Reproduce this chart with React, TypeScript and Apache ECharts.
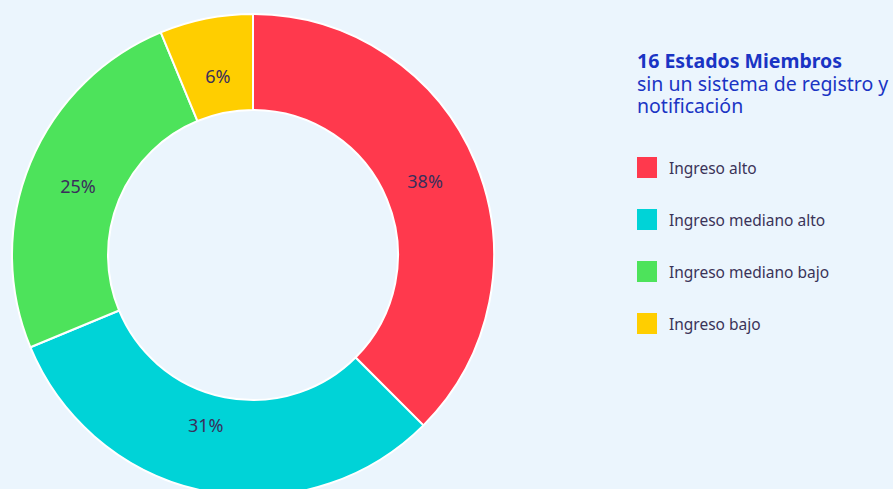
import React, { useEffect, useRef } from "react";
import * as echarts from "echarts";

const categories = ["Ingreso alto", "Ingreso mediano alto", "Ingreso mediano bajo", "Ingreso bajo"];
const counts = [6, 5, 4, 1];
const colors = ["#FF394D", "#00D3D7", "#4DE35B", "#FFCE00"];
const titleText = "16 Estados Miembros";
const subText = "sin un sistema de registro y\nnotificación";
const labelOffsets = [[-9, 1], [-9, -22], [6, 6], [3, 13]];

export default function App() {
  const ref = useRef<HTMLDivElement>(null);
  useEffect(() => {
    document.body.style.margin = "0";
    const chart = echarts.init(ref.current!, null, { renderer: "svg" });
    chart.setOption({
      animation: false,
      backgroundColor: "#EBF5FD",
      textStyle: { fontFamily: "Noto Sans" },
      title: {
        text: titleText,
        subtext: subText,
        left: 637,
        top: 49,
        padding: 0,
        itemGap: 0,
        textStyle: { fontFamily: "Noto Sans", fontSize: 19.5, fontWeight: "bold", color: "#1A34C4", lineHeight: 23 },
        subtextStyle: { fontFamily: "Noto Sans", fontSize: 19.5, color: "#1A34C4", lineHeight: 22.5 },
      },
      legend: {
        orient: "vertical",
        left: 637,
        top: 157,
        padding: 0,
        itemWidth: 20,
        itemHeight: 21,
        itemGap: 31,
        icon: "rect",
        itemStyle: { borderWidth: 0 },
        textStyle: { fontFamily: "Noto Sans", fontSize: 15.5, color: "#3A3358", padding: [0, 0, 0, 7] },
        data: categories,
      },
      series: [
        {
          type: "pie",
          center: [253, 255],
          radius: [145, 241],
          startAngle: 90,
          clockwise: true,
          itemStyle: { borderColor: "#FFFFFF", borderWidth: 2 },
          label: {
            show: true,
            position: "inside",
            formatter: (p: any) => Math.round(p.percent) + "%",
            fontFamily: "Noto Sans",
            fontSize: 18,
            color: "#3A2F5B",
          },
          labelLine: { show: false },
          emphasis: { disabled: true },
          data: categories.map((c, i) => ({
            name: c,
            value: counts[i],
            itemStyle: { color: colors[i] },
            label: { offset: labelOffsets[i] },
          })),
        },
      ],
    });
    return () => chart.dispose();
  }, []);
  return <div ref={ref} style={{ width: 893, height: 489 }} />;
}
